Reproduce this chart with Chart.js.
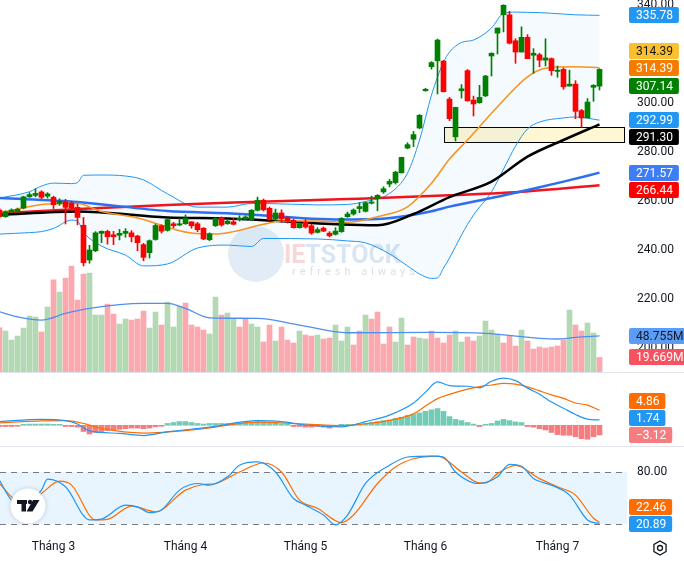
<!DOCTYPE html>
<html>
<head>
<meta charset="utf-8">
<script src="https://cdn.jsdelivr.net/npm/chart.js@4.4.1/dist/chart.umd.min.js"></script>
<style>
html, body { margin: 0; padding: 0; background: #fff; }
#wrap { position: relative; width: 684px; height: 561px; overflow: hidden; }
#wrap canvas { position: absolute; left: 0; }
.sep { position: absolute; left: 0; width: 684px; height: 1px; background: #e0e3eb; }
</style>
</head>
<body>
<div id="wrap">
  <canvas id="price" width="684" height="372" style="top:0"></canvas>
  <canvas id="macd" width="684" height="74" style="top:372px"></canvas>
  <canvas id="stoch" width="684" height="115" style="top:446px"></canvas>
  <div class="sep" style="top:372px"></div>
  <div class="sep" style="top:446px"></div>
</div>
<script>
// ---------- giá (mỗi phiên, index 0..100) ----------
const opens = [256.3,253.6,255.5,255.8,257.1,261.7,262.3,263.7,262.0,261.5,
  259.0,259.6,259.1,257.4,250.1,235.9,239.7,246.8,247.6,246.2,
  246.0,246.8,247.0,245.7,242.2,238.9,244.3,249.9,248.0,250.7,
  250.2,250.7,251.5,250.7,248.9,244.2,249.9,253.2,250.7,251.5,
  252.4,252.6,252.4,256.2,260.3,257.0,252.7,255.1,253.2,252.1,
  249.1,251.3,249.9,247.2,248.9,246.9,246.4,247.5,253.6,254.7,
  256.9,255.8,259.1,260.9,263.7,266.9,267.5,271.5,281.6,285.2,
  289.8,305.0,314.8,317.2,317.1,301.6,286.2,305.0,313.2,301.2,
  300.1,302.9,319.2,328.5,336.0,336.0,325.4,320.8,326.8,319.5,
  319.7,317.5,318.1,312.9,313.7,306.9,307.7,296.9,293.9,306.4,
  306.9];
const highs = [257.1,256.0,256.8,257.1,262.0,263.4,265.0,264.2,263.4,262.0,
  260.9,260.7,259.9,258.8,253.3,241.9,247.5,247.8,248.1,247.6,
  248.4,248.7,247.9,246.0,242.7,244.1,250.6,250.3,252.8,251.3,
  252.9,254.3,251.5,251.3,249.1,247.0,253.2,253.5,252.4,252.9,
  254.0,254.0,256.5,261.6,260.8,257.5,256.7,256.4,253.7,252.6,
  251.1,252.4,250.5,249.1,249.4,247.5,249.1,253.2,255.5,256.8,
  259.3,259.6,262.0,262.6,265.8,268.8,272.1,277.9,283.8,288.4,
  295.3,306.0,316.9,326.1,317.4,302.3,298.3,307.5,313.7,302.8,
  307.2,311.3,320.5,330.6,340.1,337.4,326.2,331.1,327.9,322.2,
  320.3,326.2,318.4,315.1,314.3,313.4,309.1,297.4,301.8,307.5,
  314.0];
const lows = [253.1,253.3,255.0,255.2,256.8,261.5,261.7,260.9,261.2,256.9,
  258.2,250.6,256.0,250.3,233.5,234.6,239.3,243.0,242.4,242.2,
  244.1,245.2,243.3,239.7,235.6,236.7,244.0,246.9,247.7,249.1,
  249.9,250.5,248.9,247.5,244.2,243.8,249.6,249.7,250.5,250.2,
  251.8,252.4,252.2,255.9,255.9,252.1,252.1,251.3,251.0,248.9,
  248.9,248.9,246.4,246.9,247.5,245.3,246.1,247.2,253.3,254.2,
  255.2,255.5,258.8,256.0,263.1,265.8,266.9,271.4,281.3,282.2,
  289.5,304.8,313.8,303.7,304.5,292.8,284.5,302.0,300.7,294.7,
  299.9,302.6,311.0,320.0,329.0,324.1,316.2,320.8,318.1,312.1,
  314.8,315.1,311.3,310.5,305.6,306.9,293.6,290.1,293.9,300.7,
  305.3];
const closes = [253.6,255.6,256.3,256.6,261.7,262.6,263.1,261.5,262.9,258.5,
  259.9,257.4,257.1,253.3,234.8,240.0,247.0,247.6,245.4,245.4,
  246.8,247.6,245.4,243.0,237.0,243.8,250.0,247.7,252.4,249.9,
  250.7,252.9,249.9,248.3,244.5,246.6,252.9,250.2,251.8,250.5,
  252.9,253.5,256.2,260.3,256.4,252.4,255.1,252.7,251.8,249.1,
  250.7,249.4,246.9,248.3,247.7,245.8,247.7,252.9,254.7,256.3,
  257.7,259.3,259.6,262.3,265.0,268.0,271.8,277.8,283.0,287.1,
  295.0,305.6,316.5,325.7,304.6,293.6,298.2,305.8,300.9,299.6,
  302.3,311.0,320.3,330.6,339.9,324.4,320.8,326.8,318.1,320.3,
  317.5,318.4,313.2,313.4,306.6,307.7,296.6,293.9,300.4,307.2,
  313.7];

// khối lượng (triệu cp) và màu cột (g = xanh, r = đỏ)
const volumes = [59.8,55.4,43.2,48.6,59.4,75.6,74.3,54.0,87.8,124.6,
  108.0,126.9,143.1,97.2,132.3,133.7,77.0,77.0,91.8,78.3,
  64.8,71.6,70.2,71.6,82.4,59.4,81.0,63.5,94.5,60.8,
  89.1,93.2,63.5,60.8,56.7,51.3,101.3,77.0,79.7,71.6,
  60.8,71.6,64.8,60.8,40.5,63.5,41.9,60.8,43.2,39.2,
  55.4,50.0,48.6,50.0,44.6,45.9,63.5,41.9,60.8,36.5,
  55.4,77.0,71.6,81.0,37.8,60.8,40.5,72.9,36.5,47.3,
  45.9,44.6,55.4,45.9,39.2,50.0,55.4,40.5,47.3,41.9,
  48.6,68.9,56.7,51.3,39.2,48.6,35.1,56.7,41.9,31.1,
  33.8,32.4,33.8,35.1,43.2,83.7,63.5,55.4,66.2,52.7,
  19.669];
const volumeSide = 'rggggggrgr' + 'grrrrgggrr' + 'ggrrrggrgg' + 'grrrrggrgg' + 'rrggrrgrrr' +
  'grrgrrgggr' + 'rgrrrrggrr' + 'ggrrrrggrr' + 'ggggrrrgrr' + 'rrrrrgrrgg' + 'r';
const volMaX = [0,3,7,11,15,24,28,31,35,43,50,58,72,81,93,96,100];
const volMa = [81.4,74.7,70.2,79.2,86.0,92.7,92.7,86.0,73.3,72.5,63.5,53.1,53.6,52.2,44.6,46.8,48.755];

// Bollinger + các đường MA (đọc tại vài phiên)
const bbX = [0,5,7,9,12,13,14,17,21,24,28,33,38,42,44,53,58,61,65,68,70,72,73,74,75,77,79,82,84,86,88,90,94,96,100];
const bbUpper = [261.2,263.8,266.1,267.3,267.1,267.5,270.5,270.6,270.2,268.6,262.9,257.5,257.5,259.0,259.0,258.4,258.6,259.8,263.1,271.4,284.9,303.3,310.6,316.7,320.8,324.7,325.7,330.6,336.6,337.1,337.0,336.9,336.3,336.0,335.78];
const bbLower = [246.5,247.1,247.5,248.8,252.2,251.8,247.3,241.6,237.9,233.5,234.3,240.8,242.0,241.4,244.7,244.5,243.7,242.9,238.4,233.5,230.2,228.4,228.6,232.6,236.7,246.1,254.3,263.7,273.0,282.4,289.4,292.2,293.9,294.3,292.99];
const bbMidX = [0,8,13,17,23,32,36,39,44,47,53,58,63,68,72,75,78,83,88,91,96,100];
const bbMid = [255.1,258.8,259.0,255.7,253.1,246.9,246.5,247.5,250.5,251.8,251.8,251.3,253.6,257.6,267.2,277.1,284.9,298.5,310.7,314.2,314.8,314.39];
const ma50X = [0,13,28,38,57,63,69,75,82,88,94,100];
const ma50 = [254.3,255.7,253.3,252.9,250.4,250.1,254.7,261.6,267.9,278.1,284.9,291.30];
const ma100X = [0,13,28,38,57,63,72,75,83,88,94,100];
const ma100 = [261.2,259.6,255.9,255.0,252.4,252.6,255.8,257.7,261.7,264.5,267.9,271.57];
const ma200X = [0,14,28,39,58,75,87,100];
const ma200 = [255.0,256.8,258.4,259.4,260.8,262.3,263.8,266.44];

// vùng hỗ trợ (hộp vàng)
const zone = { from: 74, to: 104, high: 290.1, low: 284.0 };

// MACD
const macdHist = [-0.4,-0.4,-0.4,-0.3,0.2,0.4,0.4,0.4,0.4,0.1,
  0.05,-0.4,-0.4,-0.6,-2.0,-2.8,-2.3,-2.0,-1.7,-1.5,
  -1.3,-1.1,-0.9,-0.9,-1.1,-0.9,-0.5,-0.2,0.6,0.9,
  1.2,1.2,0.9,0.6,0.4,0.6,0.6,0.6,0.6,0.6,
  0.7,0.8,0.9,1.2,1.1,0.9,0.7,0.4,0.1,-0.4,
  -0.4,-0.6,-0.6,-0.4,-0.6,-0.9,-0.4,0.1,0.2,0.3,
  0.5,0.7,0.9,1.2,1.5,1.7,2.2,2.6,3.2,3.5,
  4.0,4.5,5.0,5.4,4.5,2.8,1.9,1.5,0.9,0.4,
  -0.4,0.1,0.6,1.4,1.9,1.5,1.1,0.9,-0.4,-0.6,
  -1.1,-1.5,-2.3,-3.0,-3.2,-3.2,-3.7,-4.3,-4.5,-3.7,
  -3.12];
const macdX = [0,7,11,13,15,20,24,28,35,43,47,51,57,61,65,69,71,73,75,78,80,82,84,86,88,90,92,94,96,98,100];
const macdLine = [1.2,1.9,1.5,0.4,-1.8,-2.6,-3.3,-2.1,-0.6,1.5,1.2,0.1,-0.5,1.2,3.3,7.2,10.7,14.0,12.8,12.6,12.1,14.2,15.2,14.4,12.0,10.0,7.5,5.5,3.5,2.0,1.74];
const signalX = [0,7,11,14,17,24,33,43,51,57,61,65,69,71,73,75,78,80,82,84,86,88,90,92,94,96,98,100];
const signalLine = [0.8,1.4,1.5,0.6,-1.0,-2.5,-1.3,1.0,0.4,-0.1,0.5,1.6,3.7,6.2,8.6,10.0,11.7,12.5,13.0,13.5,13.3,12.4,11.1,9.8,8.7,7.2,6.5,4.86];

// Stochastic
const stochKX = [0,2,4,7,8,11,15,17,21,23,25,27,30,33,35,38,40,43,46,49,51,54,56,58,61,65,68,72,74,76,79,80,83,85,87,89,92,95,98,100];
const stochK = [70.5,47.7,42,59.2,71.7,63,25,26,42,40,33.3,36.4,59.2,66.8,64.9,74.4,87.6,91.5,80,49.6,42,30.6,19.3,30.6,66.8,87.6,97.2,98.3,97.2,80,67.5,66.8,74.4,88.8,86.5,72.4,64.9,53.5,25,20.89];
const stochDX = [0,2,4,7,10,12,16,18,22,26,31,34,36,40,44,47,50,53,57,59,63,66,69,73,77,80,81,83,86,90,93,96,99,100];
const stochD = [66.8,51.5,42,55.4,69.4,64.9,25,25.7,40.9,34.4,59.2,65.6,66.8,80,90.3,80,47.8,38.3,21.9,30.6,66.8,85.8,95.2,98.3,80,67.5,67.5,78.1,87.6,72.4,63,53.5,26.9,22.46];
const stochBands = [80, 20];

// trục thời gian
const monthIdx = [9, 31, 51, 71, 93];
const monthLabels = ['Tháng 3', 'Tháng 4', 'Tháng 5', 'Tháng 6', 'Tháng 7'];

// ---------- cấu hình chung ----------
Chart.defaults.font.family = 'Roboto, "Liberation Sans", sans-serif';
Chart.defaults.font.size = 12;
Chart.defaults.color = '#131722';
const FONT = '12px Roboto, "Liberation Sans", sans-serif';
const AXIS_W = 57;
const X_MIN = 0.5 / 6;
const X_MAX = X_MIN + (684 - AXIS_W) / 6;

const UP = '#008000', DOWN = '#ff0000';
const pts = (xs, ys) => xs.map((x, j) => ({ x: x, y: ys[j] }));
const idx = opens.map((_, i) => i);
const candleColors = idx.map(i => closes[i] >= opens[i] ? UP : DOWN);

function fixY(s) { s.width = AXIS_W; s.paddingTop = 0; s.paddingBottom = 0; }
function hiddenX() { return { type: 'linear', min: X_MIN, max: X_MAX, offset: false, display: false }; }
function line(data, color, width, extra) {
  return Object.assign({ type: 'line', data: data, borderColor: color, borderWidth: width,
    pointRadius: 0, fill: false, cubicInterpolationMode: 'monotone' }, extra || {});
}

// nhãn giá trị bên trục phải, tự tránh chồng nhau
const sideLabels = {
  id: 'sideLabels',
  afterDraw(chart, args, opts) {
    const ctx = chart.ctx;
    const H = 17;
    const placed = [];
    const clash = c => placed.some(p => Math.abs(p - c) < H - 0.01);
    ctx.save();
    ctx.font = FONT;
    opts.items.forEach(it => {
      const ideal = chart.scales[it.axis].getPixelForValue(it.value);
      let y = ideal;
      if (clash(y)) {
        let best = null;
        placed.forEach(p => [p - H, p + H].forEach(c => {
          if (!clash(c) && (best === null || Math.abs(c - ideal) < Math.abs(best - ideal))) best = c;
        }));
        y = best;
      }
      placed.push(y);
      const x = chart.chartArea.right + 2;
      const w = ctx.measureText(it.text).width + 13;
      ctx.fillStyle = it.bg;
      ctx.beginPath();
      ctx.roundRect(x, Math.round(y) - 8, w, 16, 2);
      ctx.fill();
      ctx.fillStyle = it.fg || '#ffffff';
      ctx.textAlign = 'left';
      ctx.textBaseline = 'middle';
      ctx.fillText(it.text, x + 7, Math.round(y) + 0.5);
    });
    ctx.restore();
  }
};

const zonePlugin = {
  id: 'zone',
  beforeDatasetsDraw(chart) {
    const { ctx, scales: { x, y } } = chart;
    const x0 = Math.round(x.getPixelForValue(zone.from)), x1 = Math.round(x.getPixelForValue(zone.to));
    const y0 = Math.round(y.getPixelForValue(zone.high)), y1 = Math.round(y.getPixelForValue(zone.low));
    ctx.save();
    ctx.fillStyle = '#fff6d3';
    ctx.fillRect(x0, y0, x1 - x0, y1 - y0);
    ctx.strokeStyle = '#000000';
    ctx.lineWidth = 1;
    ctx.strokeRect(x0 + 0.5, y0 + 0.5, x1 - x0, y1 - y0);
    ctx.restore();
  }
};

const watermark = {
  id: 'watermark',
  beforeDatasetsDraw(chart) {
    const ctx = chart.ctx;
    ctx.save();
    ctx.beginPath();
    ctx.arc(256, 254, 28, 0, Math.PI * 2);
    ctx.fillStyle = 'rgba(190,212,235,0.45)';
    ctx.fill();
    ctx.font = 'bold 25px Roboto, sans-serif';
    ctx.textBaseline = 'alphabetic';
    ctx.textAlign = 'left';
    ctx.fillStyle = 'rgba(240,175,182,0.5)';
    ctx.fillText('IE', 284, 263);
    const w = ctx.measureText('IE').width;
    ctx.fillStyle = 'rgba(180,203,230,0.5)';
    ctx.fillText('TSTOCK', 284 + w, 263);
    ctx.font = '11px Roboto, sans-serif';
    ctx.letterSpacing = '4px';
    ctx.fillStyle = 'rgba(175,185,205,0.45)';
    ctx.fillText('refresh always', 292, 275);
    ctx.restore();
  }
};

// ---------- biểu đồ giá + khối lượng ----------
new Chart(document.getElementById('price'), {
  type: 'bar',
  data: {
    datasets: [
      { type: 'bar', yAxisID: 'yVol', data: pts(idx, volumes), grouped: false, barThickness: 5, borderWidth: 0,
        backgroundColor: idx.map(i => volumeSide[i] === 'g' ? 'rgba(0,128,0,0.3)' : 'rgba(247,82,95,0.5)'), order: 20 },
      line(pts(volMaX, volMa), '#4f8ff0', 1.3, { yAxisID: 'yVol', order: 19 }),
      line(pts(bbX, bbUpper), '#2196f3', 1, { fill: '+1', backgroundColor: 'rgba(33,150,243,0.05)', order: 15 }),
      line(pts(bbX, bbLower), '#2196f3', 1, { order: 14 }),
      line(pts(ma200X, ma200), '#f0141e', 2.5, { order: 6 }),
      line(pts(ma100X, ma100), '#2d6ff0', 2.5, { order: 5 }),
      line(pts(ma50X, ma50), '#000000', 2.5, { order: 4 }),
      line(pts(bbMidX, bbMid), '#f7931e', 1.5, { order: 3 }),
      { type: 'bar', data: idx.map(i => ({ x: i, y: [lows[i], highs[i]] })), grouped: false, barThickness: 1,
        borderWidth: 0, backgroundColor: candleColors, order: 1 },
      { type: 'bar', data: idx.map(i => ({ x: i, y: [opens[i], closes[i]] })), grouped: false, barThickness: 5,
        borderWidth: 0, minBarLength: 1, backgroundColor: candleColors, order: 0 }
    ]
  },
  options: {
    responsive: false, animation: false, events: [], devicePixelRatio: 1,
    layout: { padding: 0 },
    plugins: {
      legend: { display: false }, tooltip: { enabled: false },
      sideLabels: { items: [
        { axis: 'y', value: 314.39, text: '314.39', bg: '#f57c00' },
        { axis: 'y', value: 307.14, text: '307.14', bg: '#008000' },
        { axis: 'y', value: 335.78, text: '335.78', bg: '#2196f3' },
        { axis: 'y', value: 292.99, text: '292.99', bg: '#2196f3' },
        { axis: 'y', value: 271.57, text: '271.57', bg: '#3d7ef5' },
        { axis: 'y', value: 291.30, text: '291.30', bg: '#000000' },
        { axis: 'y', value: 266.44, text: '266.44', bg: '#ff0000' },
        { axis: 'y', value: 314.39, text: '314.39', bg: '#fbc02d', fg: '#131722' },
        { axis: 'yVol', value: 19.669, text: '19.669M', bg: '#f7525f' },
        { axis: 'yVol', value: 48.755, text: '48.755M', bg: '#5b9cf6', fg: '#131722' }
      ] }
    },
    scales: {
      x: hiddenX(),
      y: { position: 'right', min: 190.2, max: 342.04,
        grid: { display: false, drawTicks: false }, border: { display: false },
        ticks: { stepSize: 20, includeBounds: false, padding: 10, callback: v => v.toFixed(2) },
        afterFit: fixY },
      yVol: { position: 'right', display: false, min: 0, max: 503 }
    }
  },
  plugins: [zonePlugin, watermark, sideLabels]
});

// ---------- MACD ----------
new Chart(document.getElementById('macd'), {
  type: 'bar',
  data: {
    datasets: [
      { type: 'bar', data: pts(idx, macdHist), grouped: false, barThickness: 5, borderWidth: 0, minBarLength: 1,
        backgroundColor: macdHist.map(v => v >= 0 ? '#72cbb5' : '#f77c80'), order: 3 },
      line(pts(signalX, signalLine), '#ff6d00', 1.2, { order: 2 }),
      line(pts(macdX, macdLine), '#2196f3', 1.2, { order: 1 })
    ]
  },
  options: {
    responsive: false, animation: false, events: [], devicePixelRatio: 1,
    layout: { padding: 0 },
    plugins: {
      legend: { display: false }, tooltip: { enabled: false },
      sideLabels: { items: [
        { axis: 'y', value: -3.12, text: '\u22123.12', bg: '#f77c80' },
        { axis: 'y', value: 1.74, text: '1.74', bg: '#2196f3' },
        { axis: 'y', value: 4.86, text: '4.86', bg: '#ff6d00' }
      ] }
    },
    scales: {
      x: hiddenX(),
      y: { position: 'right', min: -6.68, max: 17.2,
        grid: { display: false, drawTicks: false }, border: { display: false },
        ticks: { display: false }, afterFit: fixY }
    }
  },
  plugins: [sideLabels]
});

// ---------- Stochastic ----------
const bandPlugin = {
  id: 'bands',
  beforeDatasetsDraw(chart) {
    const { ctx, chartArea: a, scales: { y } } = chart;
    const yTop = Math.round(y.getPixelForValue(stochBands[0]));
    const yBot = Math.round(y.getPixelForValue(stochBands[1]));
    ctx.save();
    ctx.fillStyle = 'rgba(33,150,243,0.1)';
    ctx.fillRect(a.left, yTop, a.right - a.left, yBot - yTop);
    ctx.strokeStyle = '#787b86';
    ctx.lineWidth = 1;
    ctx.setLineDash([6, 5]);
    [yTop, yBot].forEach(py => {
      ctx.beginPath();
      ctx.moveTo(a.left, py + 0.5);
      ctx.lineTo(a.right, py + 0.5);
      ctx.stroke();
    });
    ctx.restore();
  }
};

const decor = {
  id: 'decor',
  afterDraw(chart) {
    const ctx = chart.ctx;
    ctx.save();
    // logo tròn góc trái
    const cx = 28, cy = 60;
    ctx.shadowColor = 'rgba(0,0,0,0.18)';
    ctx.shadowBlur = 5;
    ctx.beginPath();
    ctx.arc(cx, cy, 17.5, 0, Math.PI * 2);
    ctx.fillStyle = '#ffffff';
    ctx.fill();
    ctx.shadowBlur = 0;
    ctx.shadowColor = 'transparent';
    ctx.fillStyle = '#131722';
    ctx.fillRect(cx - 11, cy - 6, 10, 4);
    ctx.fillRect(cx - 6.5, cy - 6, 4.5, 11.5);
    ctx.beginPath();
    ctx.arc(cx + 2, cy - 4, 2.2, 0, Math.PI * 2);
    ctx.fill();
    ctx.beginPath();
    ctx.moveTo(cx + 5, cy - 6);
    ctx.lineTo(cx + 11.5, cy - 6);
    ctx.lineTo(cx + 4.5, cy + 5.5);
    ctx.lineTo(cx - 1.5, cy + 5.5);
    ctx.closePath();
    ctx.fill();
    // bánh răng góc phải
    const gx = 660, gy = 102;
    ctx.strokeStyle = '#131722';
    ctx.lineWidth = 1.3;
    ctx.beginPath();
    for (let k = 0; k < 6; k++) {
      const ang = Math.PI / 6 + k * Math.PI / 3;
      const px = gx + 7 * Math.cos(ang), py = gy + 7 * Math.sin(ang);
      if (k === 0) ctx.moveTo(px, py); else ctx.lineTo(px, py);
    }
    ctx.closePath();
    ctx.stroke();
    ctx.beginPath();
    ctx.arc(gx, gy, 2.5, 0, Math.PI * 2);
    ctx.stroke();
    ctx.restore();
  }
};

new Chart(document.getElementById('stoch'), {
  type: 'line',
  data: {
    datasets: [
      line(pts(stochDX, stochD), '#ff6d00', 1.2, { order: 2 }),
      line(pts(stochKX, stochK), '#2196f3', 1.2, { order: 1 })
    ]
  },
  options: {
    responsive: false, animation: false, events: [], devicePixelRatio: 1,
    layout: { padding: 0 },
    plugins: {
      legend: { display: false }, tooltip: { enabled: false },
      sideLabels: { items: [
        { axis: 'y', value: 20.89, text: '20.89', bg: '#2196f3' },
        { axis: 'y', value: 22.46, text: '22.46', bg: '#ff6d00' }
      ] }
    },
    scales: {
      x: { type: 'linear', min: X_MIN, max: X_MAX, offset: false,
        grid: { display: false, drawTicks: false }, border: { display: false },
        afterBuildTicks: s => { s.ticks = monthIdx.map(v => ({ value: v })); },
        ticks: { padding: 7, autoSkip: false, maxRotation: 0, callback: (v, i) => monthLabels[i] },
        afterFit: s => { s.height = 28; s.paddingLeft = 0; s.paddingRight = 0; } },
      y: { position: 'right', min: 10, max: 109.8,
        grid: { display: false, drawTicks: false }, border: { display: false },
        afterBuildTicks: s => { s.ticks = stochBands.map(v => ({ value: v })); },
        ticks: { padding: 10, callback: v => v.toFixed(2) },
        afterFit: fixY }
    }
  },
  plugins: [bandPlugin, sideLabels, decor]
});
</script>
</body>
</html>
